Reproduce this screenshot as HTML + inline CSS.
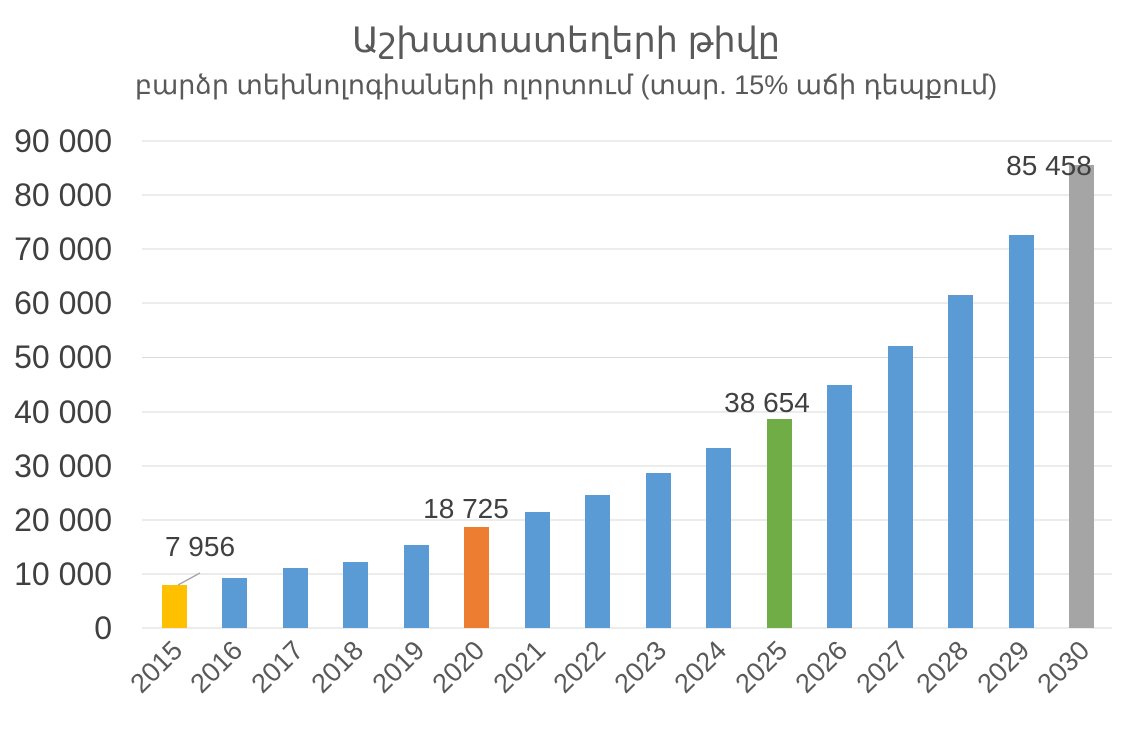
<!DOCTYPE html>
<html><head><meta charset="utf-8"><style>
body{margin:0;background:#fff;}
svg text{font-family:"Liberation Sans","DejaVu Sans",sans-serif;}
</style></head><body>
<svg width="1132" height="730" xmlns="http://www.w3.org/2000/svg">
<text x="566" y="52" text-anchor="middle" font-size="35" fill="#595959" font-family="DejaVu Sans">Աշխատատեղերի թիվը</text>
<text x="566" y="94" text-anchor="middle" font-size="27" fill="#595959" font-family="DejaVu Sans">բարձր տեխնոլոգիաների ոլորտում (տար. 15% աճի դեպքում)</text>
<g stroke="#d9d9d9" stroke-width="1">
<line x1="142" x2="1112" y1="141" y2="141"/><line x1="142" x2="1112" y1="195" y2="195"/>
<line x1="142" x2="1112" y1="249" y2="249"/><line x1="142" x2="1112" y1="303" y2="303"/>
<line x1="142" x2="1112" y1="357.5" y2="357.5"/><line x1="142" x2="1112" y1="412" y2="412"/>
<line x1="142" x2="1112" y1="466" y2="466"/><line x1="142" x2="1112" y1="520" y2="520"/>
<line x1="142" x2="1112" y1="574" y2="574"/><line x1="142" x2="1112" y1="628" y2="628"/>
</g>
<g font-size="32" fill="#404040" text-anchor="end">
<text x="112" y="152">90 000</text><text x="112" y="206">80 000</text><text x="112" y="260">70 000</text>
<text x="112" y="314">60 000</text><text x="112" y="368">50 000</text><text x="112" y="423">40 000</text>
<text x="112" y="477">30 000</text><text x="112" y="531">20 000</text><text x="112" y="585">10 000</text>
<text x="112" y="639">0</text>
</g>
<g>
<rect x="162" y="585" width="25" height="43" fill="#ffc000"/>
<rect x="222" y="578" width="25" height="50" fill="#5b9bd5"/>
<rect x="283" y="568" width="25" height="60" fill="#5b9bd5"/>
<rect x="343" y="562" width="25" height="66" fill="#5b9bd5"/>
<rect x="404" y="545" width="25" height="83" fill="#5b9bd5"/>
<rect x="464" y="527" width="25" height="101" fill="#ed7d31"/>
<rect x="525" y="512" width="25" height="116" fill="#5b9bd5"/>
<rect x="585" y="495" width="25" height="133" fill="#5b9bd5"/>
<rect x="646" y="473" width="25" height="155" fill="#5b9bd5"/>
<rect x="706" y="448" width="25" height="180" fill="#5b9bd5"/>
<rect x="767" y="419" width="25" height="209" fill="#70ad47"/>
<rect x="827" y="385" width="25" height="243" fill="#5b9bd5"/>
<rect x="888" y="346" width="25" height="282" fill="#5b9bd5"/>
<rect x="948" y="295" width="25" height="333" fill="#5b9bd5"/>
<rect x="1009" y="235" width="25" height="393" fill="#5b9bd5"/>
<rect x="1069" y="165" width="25" height="463" fill="#a5a5a5"/>
</g>
<line x1="178" y1="585" x2="200" y2="573" stroke="#a6a6a6" stroke-width="1.5"/>
<g font-size="28" fill="#404040" text-anchor="middle">
<text x="200" y="556">7 956</text>
<text x="466" y="518">18 725</text>
<text x="767" y="412">38 654</text>
<text x="1049" y="175">85 458</text>
</g>
<g font-size="27" fill="#595959" text-anchor="end">
<text transform="translate(184,652) rotate(-45)">2015</text>
<text transform="translate(244,652) rotate(-45)">2016</text>
<text transform="translate(305,652) rotate(-45)">2017</text>
<text transform="translate(365,652) rotate(-45)">2018</text>
<text transform="translate(426,652) rotate(-45)">2019</text>
<text transform="translate(486,652) rotate(-45)">2020</text>
<text transform="translate(547,652) rotate(-45)">2021</text>
<text transform="translate(607,652) rotate(-45)">2022</text>
<text transform="translate(668,652) rotate(-45)">2023</text>
<text transform="translate(728,652) rotate(-45)">2024</text>
<text transform="translate(789,652) rotate(-45)">2025</text>
<text transform="translate(849,652) rotate(-45)">2026</text>
<text transform="translate(910,652) rotate(-45)">2027</text>
<text transform="translate(970,652) rotate(-45)">2028</text>
<text transform="translate(1031,652) rotate(-45)">2029</text>
<text transform="translate(1091,652) rotate(-45)">2030</text>
</g>
</svg>
</body></html>
